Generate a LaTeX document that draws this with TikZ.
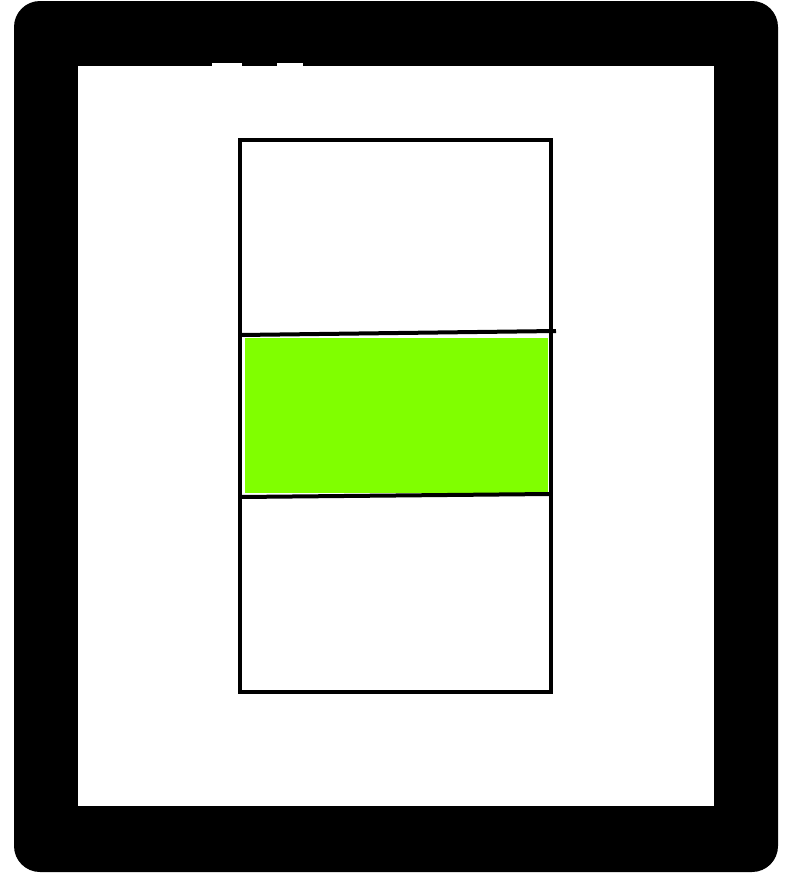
\documentclass[tikz,border=0pt]{standalone}
\definecolor{chartreuse}{HTML}{80FF00}
\tikzset{
  frame/.style={fill=black, rounded corners=26pt},
  hole/.style={fill=white},
  cellline/.style={draw=black, line width=4pt, line cap=rect},
  band/.style={fill=chartreuse}
}
\begin{document}
\begin{tikzpicture}[x=1pt,y=-1pt]
\useasboundingbox (0,0) rectangle (789,873);
\fill[white] (0,0) rectangle (789,873);
% outer thick frame
\fill[frame] (14,1) rectangle (778,872);
\fill[hole] (78,66) rectangle (714,806);
\fill[hole] (212,63) rectangle (242,66.5);
\fill[hole] (277,63) rectangle (303,66.5);
% green band
\fill[band] (245,338) rectangle (548,493);
% corner coordinates
\coordinate (tl) at (240,140);
\coordinate (tr) at (551,140);
\coordinate (bl) at (240,692);
\coordinate (br) at (551,692);
\coordinate (m1l) at (240,335);
\coordinate (m1r) at (556,331);
\coordinate (m2l) at (240,497);
\coordinate (m2r) at (550,494);
\draw[cellline] (tl) -- (tr) -- (br) -- (bl) -- cycle;
\draw[cellline, line cap=butt] (m1l) -- (m1r);
\draw[cellline, line cap=butt] (m2l) -- (m2r);
\end{tikzpicture}
\end{document}
